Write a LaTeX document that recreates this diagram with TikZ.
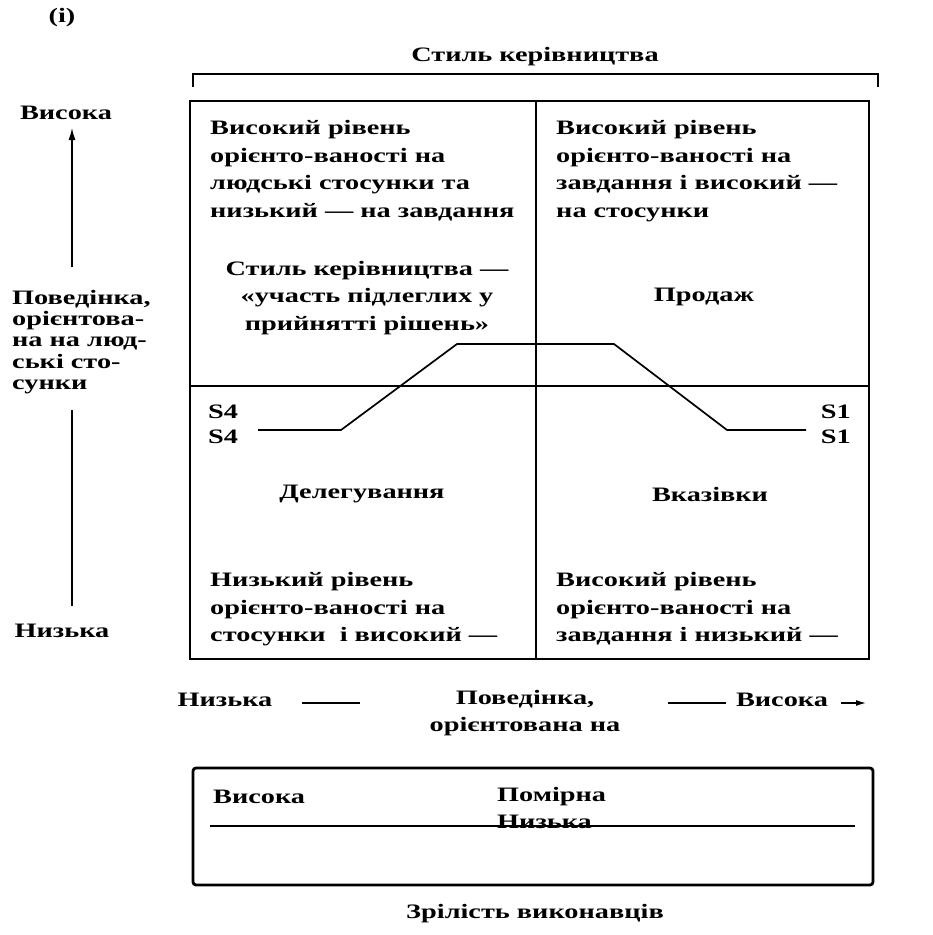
\documentclass[tikz,border=0pt]{standalone}
\usepackage{fontspec}
\setmainfont{Liberation Serif}[FakeStretch=1.38]
\usetikzlibrary{arrows.meta}

\begin{document}
\begin{tikzpicture}[x=1pt,y=-1pt,
  txt/.style={font=\fontsize{20.5}{27.7}\selectfont\bfseries, inner sep=0pt},
  cell/.style={txt, align=left, anchor=north west},
  mid/.style={txt, align=center},
  frame/.style={line width=1.7pt},
  thin/.style={line width=1.3pt},
  axisarrow/.style={line width=1.3pt, -{Latex[length=12pt,width=7pt]}},
]
\useasboundingbox (0,0) rectangle (933,935);

% ---- heading and bracket ----
\node[txt] (tag) at (62,18) {(і)};
\node[txt] (title) at (535,57) {Стиль керівництва};
\draw[frame] (193,87) -- (193,74) -- (878,74) -- (878,87);

% ---- the four-quadrant grid ----
\draw[frame] (190,101) rectangle (869,659);
\draw[frame] (536,101) -- (536,659);
\draw[frame] (190,386) -- (869,386);

% top-left quadrant
\node[cell] (q2) at (210,120) {Високий рівень\\орієнто-ваності на\\людські стосунки та\\низький — на завдання};
\node[mid] (q2s) at (367,298) {Стиль керівництва —\\«участь підлеглих у\\прийнятті рішень»};
% top-right quadrant
\node[cell] (q1) at (556,120) {Високий рівень\\орієнто-ваності на\\завдання і високий —\\на стосунки};
\node[txt] (sell) at (704,297) {Продаж};
% bottom-left quadrant
\node[txt] (deleg) at (362,494) {Делегування};
\node[cell] (q3) at (210,572) {Низький рівень\\орієнто-ваності на\\стосунки~~і високий —};
% bottom-right quadrant
\node[txt] (tell) at (710,494) {Вказівки};
\node[cell] (q4) at (556,572) {Високий рівень\\орієнто-ваності на\\завдання і низький —};

% ---- style curve ----
\node[txt, anchor=west] (s4a) at (208,412) {S4};
\node[txt, anchor=west] (s4b) at (208,437) {S4};
\node[txt, anchor=east] (s1a) at (851,412) {S1};
\node[txt, anchor=east] (s1b) at (851,437) {S1};
\coordinate (cA) at (258,430);
\coordinate (cB) at (341,430);
\coordinate (cC) at (457,344);
\coordinate (cD) at (614,344);
\coordinate (cE) at (727,430);
\coordinate (cF) at (806,430);
\draw[frame] (cA) -- (cB) -- (cC) -- (cD) -- (cE) -- (cF);

% ---- vertical axis ----
\node[txt] (vHigh) at (66,113) {Висока};
\node[txt, align=left, anchor=north west, font=\fontsize{20.5}{21.2}\selectfont\bfseries] (vLab) at (12,290) {Поведінка,\\орієнтова-\\на на люд-\\ські сто-\\сунки};
\node[txt] (vLow) at (62,631) {Низька};
\coordinate (vUpFrom) at (72,267);
\coordinate (vUpTo) at (72,128);
\coordinate (vDnFrom) at (72,410);
\coordinate (vDnTo) at (72,606);
\draw[axisarrow] (vUpFrom) -- (vUpTo);
\draw[thin] (vDnFrom) -- (vDnTo);

% ---- horizontal axis ----
\node[txt] (hLow) at (225,700) {Низька};
\node[mid] (hLab) at (525,713) {Поведінка,\\орієнтована на};
\node[txt] (hHigh) at (782,700) {Висока};
\coordinate (hd1a) at (302,703);
\coordinate (hd1b) at (360,703);
\coordinate (hd2a) at (668,703);
\coordinate (hd2b) at (726,703);
\coordinate (hArFrom) at (841,703);
\coordinate (hArTo) at (866,703);
\draw[thin] (hd1a) -- (hd1b);
\draw[thin] (hd2a) -- (hd2b);
\draw[line width=1.3pt, -{Latex[length=10pt,width=6pt]}] (hArFrom) -- (hArTo);

% ---- maturity scale ----
\draw[line width=2.8pt, rounded corners=3pt] (193,768) rectangle (873,885);
\node[txt, anchor=west] (mHigh) at (213,797) {Висока};
\node[txt, anchor=west] (mMid) at (497,797) {Помірна};
\node[txt, anchor=west] (mLow) at (497,822) {Низька};
\coordinate (mLa) at (210,826);
\coordinate (mLb) at (855,826);
\draw[thin] (mLa) -- (mLb);
\node[txt] (mTitle) at (535,914) {Зрілість виконавців};
\end{tikzpicture}
\end{document}
